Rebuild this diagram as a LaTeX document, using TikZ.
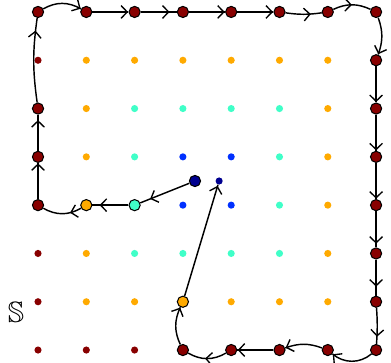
\documentclass[tikz,border=0pt]{standalone}
\usepackage{amssymb}
\usepackage{tikz}
\usetikzlibrary{arrows.meta,decorations.markings}
\definecolor{ring0}{HTML}{0030FF}
\definecolor{ring1}{HTML}{40FFC8}
\definecolor{ring2}{HTML}{FFAA00}
\definecolor{ring3}{HTML}{880000}
\definecolor{core}{HTML}{000090}
\tikzset{
  dot/.style={circle, inner sep=0pt, minimum size=4.2pt},
  site/.style={circle, draw=black, line width=0.6pt, inner sep=0pt, minimum size=6.6pt},
  hop/.style={line width=0.85pt, postaction={decorate},
    decoration={markings, mark=at position #1 with {\arrow{Straight Barb[length=3.6pt,width=7.5pt,line width=0.8pt]}}}},
}

\begin{document}
\begin{tikzpicture}
    \useasboundingbox (-0.787,-0.248) rectangle (7.309,7.248);
    % background lattice, coloured by ring
    \foreach \c in {0,...,7}{
      \foreach \r in {0,...,7}{
        \pgfmathtruncatemacro\ring{max(abs(\c-3.5),abs(\r-3.5))}
        \node[dot, fill=ring\ring] (g-\c-\r) at (\c,\r) {};
      }
    }
    \node[dot, fill=core] (s26) at (3.75,3.5) {};
    \node[font=\LARGE] (lbl) at (-0.455,0.789) {$\mathbb{S}$};
    % sites on the walk
    \node[site, fill=core] (s0) at (3.25,3.5) {};
    \foreach \n/\c/\r in {1/2/3, 2/1/3, 3/0/3, 4/0/4, 5/0/5, 6/0/7,
        7/1/7, 8/2/7, 9/3/7, 10/4/7, 11/5/7, 12/6/7, 13/7/7,
        14/7/6, 15/7/5, 16/7/4, 17/7/3, 18/7/2, 19/7/1, 20/7/0,
        21/6/0, 22/5/0, 23/4/0, 24/3/0, 25/3/1}{
      \pgfmathtruncatemacro\ring{max(abs(\c-3.5),abs(\r-3.5))}
      \node[site, fill=ring\ring] (s\n) at (\c,\r) {};
    }
    % the walk
    \foreach \a/\b/\bnd/\p in {0/1/0/0.8, 1/2/0/0.8, 2/3/30/0.3, 3/4/0/0.99,
        4/5/0/0.85, 5/6/8/0.85, 6/7/30/0.99, 7/8/0/0.99, 8/9/0/0.8,
        9/10/0/0.99, 10/11/0/0.99, 11/12/-8/0.7, 12/13/25/0.5,
        13/14/20/0.99, 14/15/0/0.99, 15/16/0/0.99, 16/17/0/0.99,
        17/18/0/0.9, 18/19/0/0.75, 19/20/4/0.8, 20/21/40/0.99,
        21/22/-20/0.99, 22/23/0/0.99, 23/24/30/0.55, 24/25/25/0.99,
        25/26/0/0.99}{
      \draw[hop=\p] (s\a) to[bend left=\bnd] (s\b);
    }
\end{tikzpicture}
\end{document}
